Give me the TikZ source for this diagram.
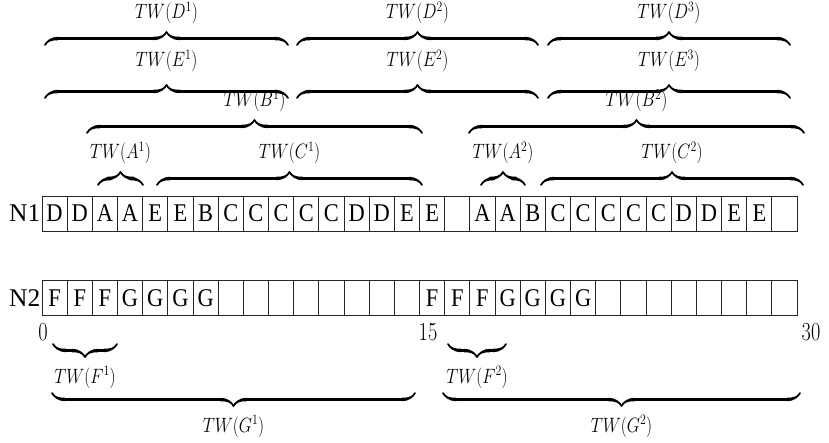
\documentclass[tikz,border=0pt]{standalone}
\usepackage{fontspec}
\usepackage{graphicx}
\newfontfamily\cellfont{Liberation Serif}
\usetikzlibrary{decorations.pathreplacing,calligraphy}
% narrowed glyph runs used throughout the drawing
\newcommand\cellglyph[1]{\scalebox{0.88}[1]{#1}}
\newcommand\winlabel[1]{\scalebox{0.82}[1]{$#1$}}
\newcommand\posnum[1]{\scalebox{0.78}[1]{#1}}
\begin{document}
\begin{tikzpicture}[x=1pt,y=-1pt,
  cellbox/.style={draw=black!85,line width=0.9pt,minimum width=25.17pt,minimum height=35pt,
    inner sep=0pt,outer sep=0pt,text height=17pt,text depth=0pt,
    font=\cellfont\fontsize{25.5}{25.5}\selectfont},
  rowname/.style={anchor=east,inner sep=1.5pt,text height=17pt,text depth=0pt,
    font=\cellfont\fontsize{25.5}{25.5}\selectfont},
  upbrace/.style={decorate,decoration={calligraphic brace,amplitude=13pt},line width=3.5pt},
  downbrace/.style={decorate,decoration={calligraphic brace,amplitude=13pt,mirror},line width=3.5pt},
  lbl/.style={anchor=base,inner sep=0pt,font=\fontsize{19.5}{20}\selectfont},
  tick/.style={anchor=base,inner sep=0pt,font=\fontsize{26}{26}\selectfont},
]
\useasboundingbox (0,0) rectangle (829,443);

% memory row N1
\foreach \t [count=\i from 0] in {D,D,A,A,E,E,B,C,C,C,C,C,D,D,E,E,{},A,A,B,C,C,C,C,C,D,D,E,E,{}}
  \node[cellbox] (c1-\i) at ({42+25.17*(\i+0.5)},213.5) {\cellglyph{\t}};
% memory row N2
\foreach \t [count=\i from 0] in {F,F,F,G,G,G,G,{},{},{},{},{},{},{},{},F,F,F,G,G,G,G,{},{},{},{},{},{},{},{}}
  \node[cellbox] (c2-\i) at ({42+25.17*(\i+0.5)},298) {\cellglyph{\t}};

\node[rowname] (n1) at (c1-0.west) {N1};
\node[rowname] (n2) at (c2-0.west) {N2};

% positions along N2
\node[tick] (t0) at (43,340) {\posnum{0}};
\node[tick] (t15) at (428,340) {\posnum{15}};
\node[tick] (t30) at (811,340) {\posnum{30}};

% windows above N1
\draw[upbrace] (45,45) -- (288,45);
\draw[upbrace] (297,45) -- (538,45);
\draw[upbrace] (548,45) -- (790,45);
\node[lbl] (d1) at (166.5,19) {\winlabel{TW(D^1)}};
\node[lbl] (d2) at (417.5,19) {\winlabel{TW(D^2)}};
\node[lbl] (d3) at (669,19) {\winlabel{TW(D^3)}};

\draw[upbrace] (45,98) -- (288,98);
\draw[upbrace] (297,98) -- (538,98);
\draw[upbrace] (548,98) -- (790,98);
\node[lbl] (e1) at (166.5,67) {\winlabel{TW(E^1)}};
\node[lbl] (e2) at (417.5,67) {\winlabel{TW(E^2)}};
\node[lbl] (e3) at (669,67) {\winlabel{TW(E^3)}};

\draw[upbrace] (87,133) -- (422,133);
\draw[upbrace] (469,133) -- (804,133);
\node[lbl] (b1) at (254.5,107) {\winlabel{TW(B^1)}};
\node[lbl] (b2) at (636.5,107) {\winlabel{TW(B^2)}};

\draw[upbrace] (98,185) -- (143,185);
\draw[upbrace] (481,185) -- (525,185);
\node[lbl] (a1) at (120.5,159) {\winlabel{TW(A^1)}};
\node[lbl] (a2) at (503,159) {\winlabel{TW(A^2)}};

\draw[upbrace] (157,185) -- (422,185);
\draw[upbrace] (541,185) -- (803,185);
\node[lbl] (cc1) at (289.5,159) {\winlabel{TW(C^1)}};
\node[lbl] (cc2) at (672,159) {\winlabel{TW(C^2)}};

% windows below N2
\draw[downbrace] (53,344) -- (117,344);
\draw[downbrace] (448,344) -- (506,344);
\node[lbl] (f1) at (85,383) {\winlabel{TW(F^1)}};
\node[lbl] (f2) at (477,383) {\winlabel{TW(F^2)}};

\draw[downbrace] (52,393) -- (415,393);
\draw[downbrace] (443,393) -- (800,393);
\node[lbl] (g1) at (233.5,432) {\winlabel{TW(G^1)}};
\node[lbl] (g2) at (621.5,432) {\winlabel{TW(G^2)}};
\end{tikzpicture}
\end{document}
